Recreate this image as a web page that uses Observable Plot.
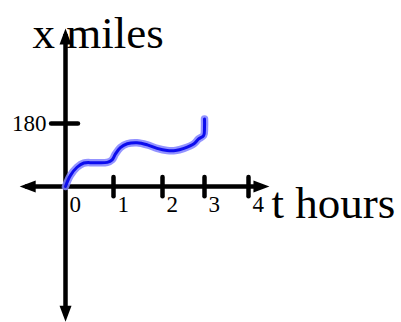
<!DOCTYPE html>
<html>
<head>
<meta charset="utf-8">
<script src="https://cdn.jsdelivr.net/npm/d3@7"></script>
<script src="https://cdn.jsdelivr.net/npm/@observablehq/plot@0.6"></script>
<style>
  html, body { margin: 0; padding: 0; background: #fff; }
  #chart svg { display: block; }
</style>
</head>
<body>
<div id="chart"></div>
<script>
// Distance travelled (miles) against time (hours)
const hours = [0, 0.10, 0.24, 0.38, 0.59, 0.87, 0.97, 1.04, 1.14, 1.28, 1.48, 1.69, 1.89, 2.11, 2.31, 2.51, 2.75, 2.86, 2.98, 3.0, 3.0];
const miles = [0, 31, 55, 67, 68, 69, 76, 93, 111, 122, 125, 119, 109, 103, 103, 109, 122, 136, 146, 169, 193];

// Axis ticks and labels
const hourTicks = [0, 1, 2, 3, 4];
const hourTickLabels = ["0", "1", "2", "3", "4"];
const mileTicks = [180];
const mileTickLabels = ["180"];

// How far each axis line runs
const hourExtent = [-0.83, 4.34];
const mileExtent = [-369, 434];

const trip = hours.map((t, i) => ({t, x: miles[i]}));

// Filled arrowheads as custom dot symbols (tip 6px beyond the anchor)
const head = (pts) => ({
  draw(ctx) {
    ctx.moveTo(pts[0][0], pts[0][1]);
    ctx.lineTo(pts[1][0], pts[1][1]);
    ctx.lineTo(pts[2][0], pts[2][1]);
    ctx.closePath();
  }
});
const headLeft = head([[-6, 0], [10, -6], [10, 6]]);
const headRight = head([[6, 0], [-10, -6], [-10, 6]]);
const headUp = head([[0, -6], [-6, 10], [6, 10]]);
const headDown = head([[0, 6], [-6, -10], [6, -10]]);

const serif = "'Liberation Serif', 'Times New Roman', serif";
const axisStroke = {stroke: "black", strokeWidth: 4.5};

const chart = Plot.plot({
  width: 401,
  height: 322,
  margin: 0,
  // hand-spaced hour ticks: piecewise linear time axis
  x: {type: "linear", domain: [0, 1, 2, 3, 4], range: [65, 113, 162, 204, 248], axis: null},
  y: {type: "linear", domain: [0, 180], range: [186, 123], axis: null},
  style: {background: "#fff", fontFamily: serif},
  marks: [
    // axis lines
    Plot.ruleY([0], {x1: hourExtent[0], x2: hourExtent[1], ...axisStroke}),
    Plot.ruleX([0], {y1: mileExtent[0], y2: mileExtent[1], ...axisStroke}),
    // arrowheads
    Plot.dot([0], {x: hourExtent[0], y: 0, symbol: headLeft, fill: "black", stroke: null}),
    Plot.dot([0], {x: hourExtent[1], y: 0, symbol: headRight, fill: "black", stroke: null}),
    Plot.dot([0], {x: 0, y: mileExtent[1], symbol: headUp, fill: "black", stroke: null}),
    Plot.dot([0], {x: 0, y: mileExtent[0], symbol: headDown, fill: "black", stroke: null}),
    // tick marks
    Plot.ruleX(hourTicks.slice(1), {y1: -29, y2: 26, ...axisStroke, strokeLinecap: "round"}),
    Plot.ruleY(mileTicks, {x1: -0.29, x2: 0.27, ...axisStroke, strokeLinecap: "round"}),
    // tick labels
    Plot.text(hourTicks, {x: d => d, y: 0, text: (d, i) => hourTickLabels[i], dx: 4, dy: 25,
      textAnchor: "start", lineAnchor: "bottom", fontSize: 23, fill: "black"}),
    Plot.text(mileTicks, {x: 0, y: d => d, text: (d, i) => mileTickLabels[i], dx: -19,
      textAnchor: "end", lineAnchor: "middle", fontSize: 23, fill: "black"}),
    // axis titles
    Plot.text(["x miles"], {frameAnchor: "top-left", dx: 32, dy: 47, textAnchor: "start",
      lineAnchor: "bottom", fontSize: 45, fill: "black"}),
    Plot.text(["t hours"], {frameAnchor: "top-left", dx: 271, dy: 217, textAnchor: "start",
      lineAnchor: "bottom", fontSize: 45, fill: "black"}),
    // the trip, with a soft halo
    Plot.line(trip, {x: "t", y: "x", curve: "catmull-rom", stroke: "#8080ff", strokeWidth: 7.5,
      strokeOpacity: 0.85, strokeLinecap: "round", strokeLinejoin: "round"}),
    Plot.line(trip, {x: "t", y: "x", curve: "catmull-rom", stroke: "#0d0dee", strokeWidth: 3,
      strokeLinecap: "round", strokeLinejoin: "round"})
  ]
});

document.getElementById("chart").appendChild(chart);
</script>
</body>
</html>
